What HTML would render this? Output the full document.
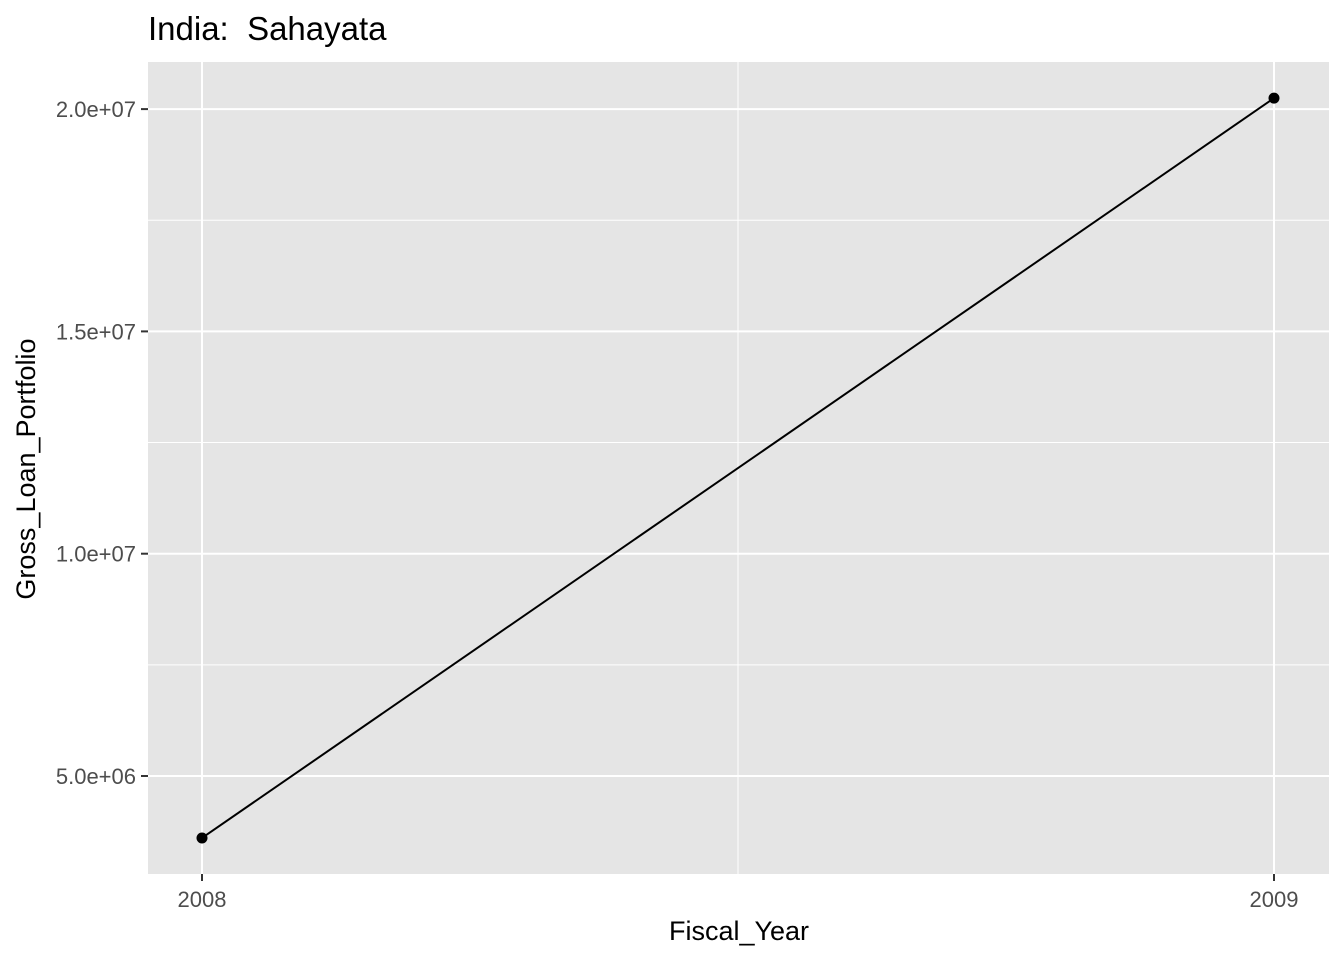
<!DOCTYPE html>
<html><head><meta charset="utf-8"><style>
body{margin:0;background:#fff;}
svg text{font-family:"Liberation Sans",Arial,sans-serif;}
</style></head><body>
<svg id="chart" width="1344" height="960">
<rect x="0" y="0" width="1344" height="960" fill="#fff"/>
<rect x="148" y="62" width="1181" height="812" fill="#e5e5e5"/>
<g id="grid"></g>
<g id="marks"></g>
<g id="axes"></g>
<text x="148" y="40" font-size="33" fill="#000" xml:space="preserve" style="white-space:pre">India:  Sahayata</text>
<text x="739" y="940" font-size="27" text-anchor="middle" fill="#000">Fiscal_Year</text>
<text transform="translate(35,469) rotate(-90)" font-size="27" text-anchor="middle" fill="#000">Gross_Loan_Portfolio</text>
</svg>
<script>
const years = [2008, 2009];
const values = [3606000, 20247000];
const yTicks = [5e6, 1e7, 1.5e7, 2e7];
const yTickLabels = ["5.0e+06", "1.0e+07", "1.5e+07", "2.0e+07"];
const xTickLabels = ["2008", "2009"];

const NS = "http://www.w3.org/2000/svg";
const xs = v => 202 + (v - 2008) * 1072;
const ys = v => 776 - (v - 5e6) / 5e6 * 222.3;
function mk(tag, attrs, parent) {
  const e = document.createElementNS(NS, tag);
  for (const k in attrs) e.setAttribute(k, attrs[k]);
  document.getElementById(parent).appendChild(e);
  return e;
}
for (let i = 0; i < yTicks.length - 1; i++) {
  const m = (yTicks[i] + yTicks[i + 1]) / 2;
  const g = mk("line", {x1:148, x2:1329, y1:ys(m), y2:ys(m), stroke:"#fff", "stroke-width":1}, "grid");
  
  
}
{
  const g = mk("line", {x1:xs(2008.5), x2:xs(2008.5), y1:62, y2:874, stroke:"#fff", "stroke-width":1}, "grid");
  
  
}
yTicks.forEach((t, i) => {
  const g = mk("line", {x1:148, x2:1329, y1:ys(t), y2:ys(t), stroke:"#fff", "stroke-width":2}, "grid");
  
  
  const tk = mk("line", {x1:141, x2:148, y1:ys(t), y2:ys(t), stroke:"#333", "stroke-width":2}, "axes");
  
  
  const tx = mk("text", {x:136, y:ys(t) + 8, "font-size":22, "text-anchor":"end", fill:"#4d4d4d"}, "axes");
  tx.textContent = yTickLabels[i];
  
  
});
years.forEach((y, i) => {
  const g = mk("line", {x1:xs(y), x2:xs(y), y1:62, y2:874, stroke:"#fff", "stroke-width":2}, "grid");
  
  
  const tk = mk("line", {x1:xs(y), x2:xs(y), y1:874, y2:881, stroke:"#333", "stroke-width":2}, "axes");
  
  
  const tx = mk("text", {x:xs(y), y:907, "font-size":22, "text-anchor":"middle", fill:"#4d4d4d"}, "axes");
  tx.textContent = xTickLabels[i];
  
  
});
const pts = years.map((y, i) => xs(y) + "," + ys(values[i])).join(" ");
const line = mk("polyline", {points:pts, fill:"none", stroke:"#000", "stroke-width":2}, "marks");


years.forEach((y, i) => {
  const c = mk("circle", {cx:xs(y), cy:ys(values[i]), r:5.5, fill:"#000"}, "marks");
  
  
});
</script>
</body></html>
